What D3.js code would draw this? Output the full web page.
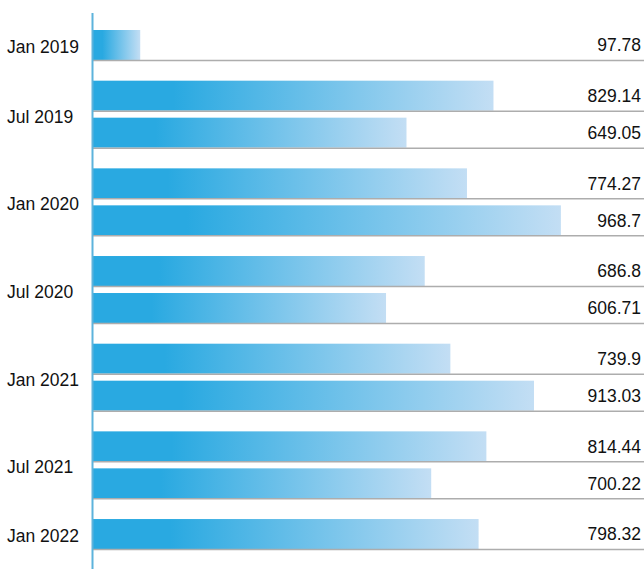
<!DOCTYPE html>
<html>
<head>
<meta charset="utf-8">
<script src="https://cdn.jsdelivr.net/npm/d3@7"></script>
<style>
  html, body { margin: 0; padding: 0; background: #fff; }
  svg { display: block; font-family: "Liberation Sans", Arial, sans-serif; }
</style>
</head>
<body>
<svg id="chart"></svg>
<script>
const periods = ['Jan 2019', 'Jul 2019', 'Jan 2020', 'Jul 2020', 'Jan 2021', 'Jul 2021', 'Jan 2022'];
const barPeriod = [0, 1, 1, 2, 2, 3, 3, 4, 4, 5, 5, 6];
const values = [97.78, 829.14, 649.05, 774.27, 968.7, 686.8, 606.71, 739.9, 913.03, 814.44, 700.22, 798.32];

const width = 644;
const height = 569;
const left = 93;

// bars stack down the page, a little extra room between half-year groups
const groupGap = 0.37;
const barFrac = 0.81;
const slots = values.map((v, i) => i + barPeriod[i] * groupGap);

const svg = d3.select('#chart')
  .attr('width', width)
  .attr('height', height);

const x = d3.scaleLinear().domain([0, 1000]).range([left, left + 483]);
const y = d3.scaleLinear()
  .domain([0, d3.max(slots) + barFrac])
  .range([30, 549]);
const barH = y(barFrac) - y(0);

const defs = svg.append('defs');
const grad = defs.append('linearGradient')
  .attr('id', 'barGrad')
  .attr('x1', 0).attr('x2', 1).attr('y1', 0).attr('y2', 0);
grad.append('stop').attr('offset', 0).attr('stop-color', '#29a9e1');
grad.append('stop').attr('offset', 0.2).attr('stop-color', '#29a9e1');
grad.append('stop').attr('offset', 1).attr('stop-color', '#c3def4');

const rows = values.map((v, i) => ({ value: v, slot: slots[i], period: barPeriod[i] }));

svg.selectAll('rect.bar')
  .data(rows)
  .join('rect')
  .attr('class', 'bar')
  .attr('x', x(0))
  .attr('y', d => y(d.slot))
  .attr('width', d => x(d.value) - x(0))
  .attr('height', barH)
  .attr('fill', 'url(#barGrad)');

svg.selectAll('line.row')
  .data(rows)
  .join('line')
  .attr('class', 'row')
  .attr('x1', x(0))
  .attr('x2', width)
  .attr('y1', d => y(d.slot) + barH + 0.5)
  .attr('y2', d => y(d.slot) + barH + 0.5)
  .attr('stroke', '#adadad')
  .attr('stroke-width', 1.5);

svg.selectAll('text.val')
  .data(rows)
  .join('text')
  .attr('class', 'val')
  .attr('x', 641)
  .attr('y', d => y(d.slot) + barH / 2)
  .attr('dy', '0.36em')
  .attr('text-anchor', 'end')
  .attr('font-size', 17.5)
  .attr('fill', '#111')
  .text(d => d.value);

// period labels sit in the middle of their group of bars (a touch lower)
const labelPos = periods.map((p, k) => {
  const inGroup = rows.filter(r => r.period === k);
  return { label: p, cy: d3.mean(inGroup, r => y(r.slot) + barH / 2) };
});

svg.selectAll('text.period')
  .data(labelPos)
  .join('text')
  .attr('class', 'period')
  .attr('x', 7)
  .attr('y', d => d.cy)
  .attr('dy', '0.48em')
  .attr('font-size', 17.5)
  .attr('fill', '#111')
  .text(d => d.label);

svg.append('line')
  .attr('x1', left - 0.5).attr('x2', left - 0.5)
  .attr('y1', 13).attr('y2', height)
  .attr('stroke', '#5db3dc')
  .attr('stroke-width', 2);
</script>
</body>
</html>
